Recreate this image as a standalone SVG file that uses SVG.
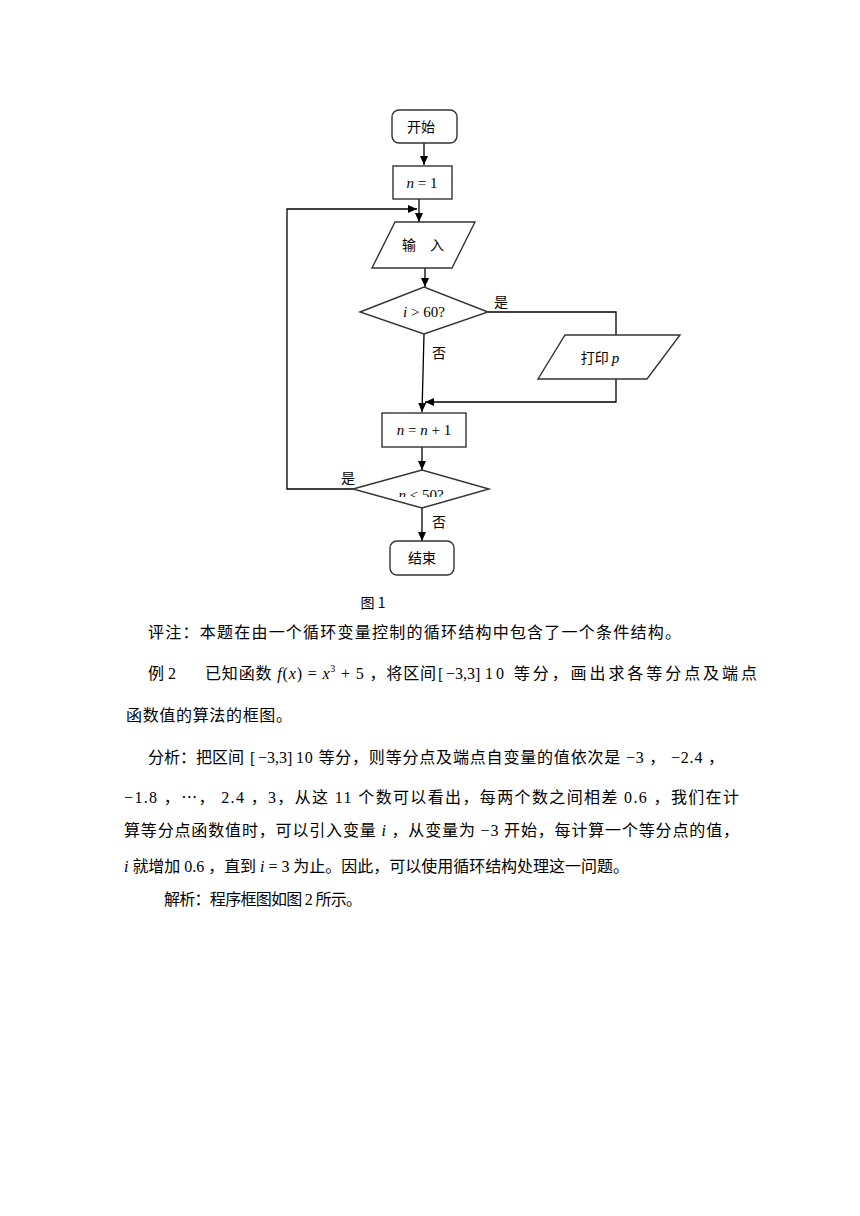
<svg xmlns="http://www.w3.org/2000/svg" width="860" height="1216" viewBox="0 0 860 1216">
<defs>
<style>
.s{fill:none;stroke:#000;stroke-width:1.3}
.b{fill:#fff;stroke:#333;stroke-width:1.4}
.c{font-family:"Noto Sans CJK SC","Liberation Serif",sans-serif;font-size:14px;fill:#000}
.m{font-family:"Liberation Serif","Noto Sans CJK SC",serif;font-size:15px;fill:#000}
.i{font-style:italic}
.p{font-family:"Liberation Serif","Noto Sans CJK SC",serif;font-size:16px;fill:#000}
</style>
<marker id="a" markerWidth="10" markerHeight="10" refX="9" refY="5" orient="auto" markerUnits="userSpaceOnUse">
<path d="M0,1 L9,5 L0,9 Z" fill="#000"/>
</marker>
<clipPath id="cl"><rect x="340" y="470" width="160" height="27"/></clipPath>
</defs>
<rect width="860" height="1216" fill="#fff"/>
<g id="connectors">
<line class="s" x1="424" y1="143" x2="424" y2="165" marker-end="url(#a)"/>
<line class="s" x1="419" y1="199" x2="419" y2="222" marker-end="url(#a)"/>
<polyline class="s" points="353,489 287,489 287,209 417,209" marker-end="url(#a)"/>
<line class="s" x1="425" y1="268" x2="425" y2="287" marker-end="url(#a)"/>
<polyline class="s" points="488,312 616,312 616,335"/>
<polyline class="s" points="616,379 616,402 425,402" marker-end="url(#a)"/>
<line class="s" x1="424" y1="334" x2="422" y2="412" marker-end="url(#a)"/>
<line class="s" x1="422" y1="447" x2="422" y2="470" marker-end="url(#a)"/>
<line class="s" x1="422" y1="508" x2="422" y2="541" marker-end="url(#a)"/>
<text class="c" x="494" y="307">是</text>
<text class="c" x="432" y="358">否</text>
<text class="c" x="341" y="483">是</text>
<text class="c" x="432" y="527">否</text>
</g>
<g id="start">
<rect class="b" x="392" y="110" width="65" height="33" rx="7"/>
<text class="c" x="421" y="132" text-anchor="middle">开始</text>
</g>
<g id="init">
<rect class="b" x="393" y="166" width="59" height="33"/>
<text class="m" x="422" y="188" text-anchor="middle"><tspan class="i">n</tspan> = 1</text>
</g>
<g id="input">
<polygon class="b" points="395,222 475,222 452,268 372,268"/>
<text class="c" x="423" y="250" text-anchor="middle">输　入</text>
</g>
<g id="cond1">
<polygon class="b" points="360,312 424,287 488,312 424,334"/>
<text class="m" x="424" y="317" text-anchor="middle"><tspan class="i">i</tspan> &gt; 60?</text>
</g>
<g id="print">
<polygon class="b" points="565,335 680,335 647,379 538,379"/>
<text class="c" x="600" y="363" text-anchor="middle">打印 <tspan class="m i">p</tspan></text>
</g>
<g id="incr">
<rect class="b" x="382" y="413" width="84" height="34"/>
<text class="m" x="424" y="435" text-anchor="middle"><tspan class="i">n</tspan> = <tspan class="i">n</tspan> + 1</text>
</g>
<g id="cond2">
<polygon class="b" points="353,489 422,470 489,489 422,508"/>
<text class="m" x="421" y="500" text-anchor="middle" clip-path="url(#cl)"><tspan class="i">n</tspan> &lt; 50?</text>
</g>
<g id="end">
<rect class="b" x="390" y="541" width="64" height="34" rx="7"/>
<text class="c" x="422" y="563" text-anchor="middle">结束</text>
</g>
<text class="c" x="373" y="608" text-anchor="middle">图 1</text>
<g id="body">
<text class="p" x="148" y="638" textLength="533" lengthAdjust="spacing">评注：本题在由一个循环变量控制的循环结构中包含了一个条件结构。</text>
<text class="p" x="148" y="679">例 2</text>
<text class="p" x="205" y="679" textLength="231" lengthAdjust="spacing">已知函数 <tspan class="i">f</tspan>(<tspan class="i">x</tspan>) = <tspan class="i">x</tspan><tspan dy="-7" font-size="10">3</tspan><tspan dy="7"> + 5 ，将区间</tspan></text>
<text class="p" x="438" y="680" font-size="19">[</text><text class="p" x="446" y="679">−3,3</text><text class="p" x="475" y="680" font-size="19">]</text>
<text class="p" x="485" y="679" textLength="272" lengthAdjust="spacing">10 等分，画出求各等分点及端点</text>
<text class="p" x="126" y="721" textLength="166" lengthAdjust="spacing">函数值的算法的框图。</text>
<text class="p" x="148" y="763">分析：把区间</text>
<text class="p" x="250" y="764" font-size="19">[</text><text class="p" x="258" y="763">−3,3</text><text class="p" x="287" y="764" font-size="19">]</text>
<text class="p" x="296" y="763" textLength="428" lengthAdjust="spacing">10 等分，则等分点及端点自变量的值依次是 −3 ， −2.4 ，</text>
<text class="p" x="124" y="803" textLength="615" lengthAdjust="spacing">−1.8 ，⋯， 2.4 ，3，从这 11 个数可以看出，每两个数之间相差 0.6 ，我们在计</text>
<text class="p" x="124" y="836" textLength="615" lengthAdjust="spacing">算等分点函数值时，可以引入变量 <tspan class="i">i</tspan> ，从变量为 −3 开始，每计算一个等分点的值，</text>
<text class="p" x="124" y="872" textLength="505" lengthAdjust="spacing"><tspan class="i">i</tspan> 就增加 0.6 ，直到 <tspan class="i">i</tspan> = 3 为止。因此，可以使用循环结构处理这一问题。</text>
<text class="p" x="164" y="905" textLength="198" lengthAdjust="spacing">解析：程序框图如图 2 所示。</text>
</g>
</svg>
